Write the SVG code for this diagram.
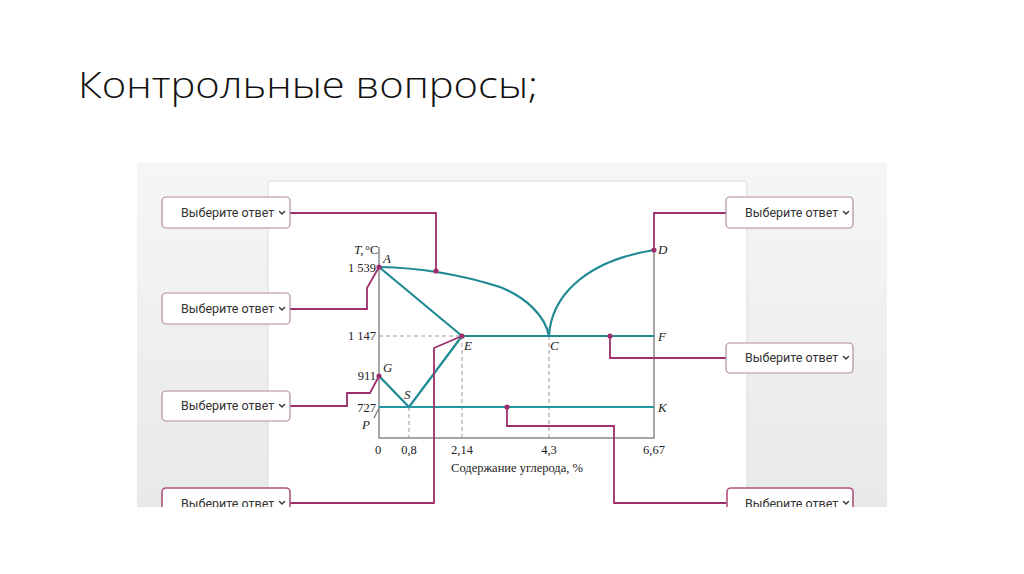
<svg xmlns="http://www.w3.org/2000/svg" width="1024" height="574" viewBox="0 0 1024 574">
<defs>
<linearGradient id="panelGrad" x1="0" y1="0" x2="0" y2="1">
<stop offset="0" stop-color="#f5f6f6"/>
<stop offset="1" stop-color="#e7e8e8"/>
</linearGradient>
<clipPath id="cut"><rect x="0" y="0" width="1024" height="507"/></clipPath>
<style>
.title{font-family:"Open Sans","Liberation Sans",sans-serif;font-weight:300;font-size:36px;fill:#111}
.box{fill:#fff;stroke:#b48a9c;stroke-width:1.2}
.boxF{fill:#fff;stroke:#b0527e;stroke-width:1.6}
.btxt{font-family:Roboto,"Liberation Sans",sans-serif;font-size:12.5px;fill:#333}
.chev{fill:none;stroke:#333;stroke-width:1.4;stroke-linecap:round;stroke-linejoin:round}
.axis{fill:none;stroke:#8a8a8a;stroke-width:1.5}
.dash{fill:none;stroke:#9a9a9a;stroke-width:1;stroke-dasharray:4 3}
.teal{fill:none;stroke:#1f8a93;stroke-width:2.2}
.teal2{fill:none;stroke:#2596a3;stroke-width:2}
.lab{font-family:"Liberation Serif",serif;font-size:12.5px;fill:#222}
.ital{font-family:"Liberation Serif",serif;font-size:13px;font-style:italic;fill:#222}
.conn{fill:none;stroke:#9e2f6c;stroke-width:1.8;stroke-linejoin:miter}
.dot{fill:#9e2f6c}
</style>
</defs>
<rect x="0" y="0" width="1024" height="574" fill="#fff"/>
<text class="title" x="78" y="98" textLength="460" lengthAdjust="spacingAndGlyphs">Контрольные вопросы;</text>
<g clip-path="url(#cut)">
<g id="panel">
<rect x="137" y="163" width="750" height="360" fill="url(#panelGrad)"/>
<rect x="268" y="181" width="479" height="340" rx="3" fill="#fff" stroke="#dcdcdc" stroke-width="1"/>
</g>
<g id="chart">
<line class="dash" x1="379" y1="336" x2="462" y2="336"/>
<line class="dash" x1="409" y1="407" x2="409" y2="438"/>
<line class="dash" x1="462" y1="336" x2="462" y2="438"/>
<line class="dash" x1="549" y1="336" x2="549" y2="438"/>
<path class="axis" d="M379,247 V438 H654 V250"/>
<line class="axis" x1="379" y1="408" x2="374" y2="418" stroke-width="1"/>
<path class="teal" d="M379,267 Q440,268 500,287 C525,297 545,315 549,336"/>
<path class="teal" d="M549,336 C551,300 580,262 654,250"/>
<path class="teal" d="M379,267 L462,336"/>
<path class="teal" d="M462,336 H654"/>
<path class="teal" d="M379,376 L409,407 L462,336"/>
<path class="teal2" d="M379,407 H654"/>
<text class="ital" x="354" y="254" font-size="12">T,</text><text class="lab" x="365" y="254" font-size="12">°C</text>
<text class="lab" x="376" y="272" text-anchor="end">1 539</text>
<text class="lab" x="376" y="340" text-anchor="end">1 147</text>
<text class="lab" x="376" y="380" text-anchor="end">911</text>
<text class="lab" x="376" y="412" text-anchor="end">727</text>
<text class="ital" x="362" y="429">P</text>
<text class="ital" x="383" y="263">A</text>
<text class="ital" x="383" y="372">G</text>
<text class="ital" x="404" y="399">S</text>
<text class="ital" x="464" y="350">E</text>
<text class="ital" x="550" y="350">C</text>
<text class="ital" x="658" y="254">D</text>
<text class="ital" x="658" y="341">F</text>
<text class="ital" x="658" y="412">K</text>
<text class="lab" x="378" y="454" text-anchor="middle">0</text>
<text class="lab" x="409" y="454" text-anchor="middle">0,8</text>
<text class="lab" x="462" y="454" text-anchor="middle">2,14</text>
<text class="lab" x="549" y="454" text-anchor="middle">4,3</text>
<text class="lab" x="654" y="454" text-anchor="middle">6,67</text>
<text class="lab" x="517" y="472" text-anchor="middle" font-size="12">Содержание углерода, %</text>
</g>
<g id="connectors">
<path class="conn" d="M290,213 H436 V271"/>
<path class="conn" d="M290,309 H367 V288 L379,267"/>
<path class="conn" d="M290,406 H347 V393 H370 L379,376"/>
<path class="conn" d="M290,503 H434 V348 L462,336"/>
<path class="conn" d="M726,213 H654 V250"/>
<path class="conn" d="M726,358 H610 V336"/>
<path class="conn" d="M726,503 H614 V426 H507 V407"/>
<circle class="dot" cx="436" cy="271" r="2.6"/>
<circle class="dot" cx="379" cy="267" r="2.6"/>
<circle class="dot" cx="379" cy="376" r="2.6"/>
<circle class="dot" cx="462" cy="336" r="2.6"/>
<circle class="dot" cx="654" cy="250" r="2.6"/>
<circle class="dot" cx="610" cy="336" r="2.6"/>
<circle class="dot" cx="507" cy="407" r="2.6"/>
</g>
<g id="box-l1"><rect class="box" x="162" y="197" width="128" height="31" rx="4"/><text class="btxt" x="181" y="217">Выберите ответ</text><path class="chev" d="M279.5,211.5 l2.5,2.5 l2.5,-2.5"/></g>
<g id="box-l2"><rect class="box" x="162" y="293" width="128" height="31" rx="4"/><text class="btxt" x="181" y="313">Выберите ответ</text><path class="chev" d="M279.5,307.5 l2.5,2.5 l2.5,-2.5"/></g>
<g id="box-l3"><rect class="box" x="162" y="391" width="128" height="30" rx="4"/><text class="btxt" x="181" y="410">Выберите ответ</text><path class="chev" d="M279.5,404.5 l2.5,2.5 l2.5,-2.5"/></g>
<g id="box-l4"><rect class="boxF" x="162" y="488" width="128" height="31" rx="4"/><text class="btxt" x="181" y="508">Выберите ответ</text><path class="chev" d="M279.5,501.5 l2.5,2.5 l2.5,-2.5"/></g>
<g id="box-r1"><rect class="box" x="726" y="197" width="127" height="31" rx="4"/><text class="btxt" x="745" y="217">Выберите ответ</text><path class="chev" d="M843.5,211.5 l2.5,2.5 l2.5,-2.5"/></g>
<g id="box-r2"><rect class="box" x="726" y="343" width="127" height="30" rx="4"/><text class="btxt" x="745" y="362">Выберите ответ</text><path class="chev" d="M843.5,356.5 l2.5,2.5 l2.5,-2.5"/></g>
<g id="box-r3"><rect class="boxF" x="727" y="488" width="126" height="31" rx="4"/><text class="btxt" x="745" y="508">Выберите ответ</text><path class="chev" d="M843.5,501.5 l2.5,2.5 l2.5,-2.5"/></g>
</g>
</svg>
